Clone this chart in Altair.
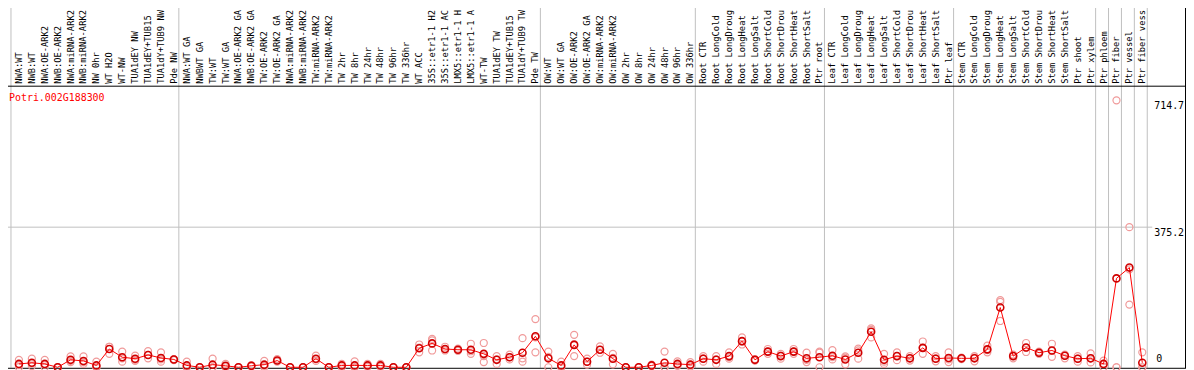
import altair as alt
import pandas as pd

categories = [
    "NWA:WT", "NWB:WT", "NWA:OE-ARK2", "NWB:OE-ARK2", "NWA:miRNA-ARK2", "NWB:miRNA-ARK2",
    "NW 0hr", "WT H2O", "WT-NW", "TUA1dEY NW", "TUA1dEY+TUB15", "TUA1dY+TUB9 NW", "Pde NW",
    "NWA:WT GA", "NWBWT GA", "TW:WT", "TW:WT GA", "NWA:OE-ARK2 GA", "NWB:OE-ARK2 GA",
    "TW:OE-ARK2", "TW:OE-ARK2 GA", "NWA:miRNA-ARK2", "NWB:miRNA-ARK2", "TW:miRNA-ARK2",
    "TW:miRNA-ARK2", "TW 2hr", "TW 8hr", "TW 24hr", "TW 48hr", "TW 96hr", "TW 336hr",
    "WT ACC", "35S::etr1-1 H2", "35S::etr1-1 AC", "LMX5::etr1-1 H", "LMX5::etr1-1 A",
    "WT-TW", "TUA1dEY TW", "TUA1dEY+TUB15", "TUA1dY+TUB9 TW", "Pde TW",
    "OW:WT", "OW:WT GA", "OW:OE-ARK2", "OW:OE-ARK2 GA", "OW:miRNA-ARK2", "OW:miRNA-ARK2",
    "OW 2hr", "OW 8hr", "OW 24hr", "OW 48hr", "OW 96hr", "OW 336hr",
    "Root CTR", "Root LongCold", "Root LongDroug", "Root LongHeat", "Root LongSalt",
    "Root ShortCold", "Root ShortDrou", "Root ShortHeat", "Root ShortSalt", "Ptr root",
    "Leaf CTR", "Leaf LongCold", "Leaf LongDroug", "Leaf LongHeat", "Leaf LongSalt",
    "Leaf ShortCold", "Leaf ShortDrou", "Leaf ShortHeat", "Leaf ShortSalt", "Ptr leaf",
    "Stem CTR", "Stem LongCold", "Stem LongDroug", "Stem LongHeat", "Stem LongSalt",
    "Stem ShortCold", "Stem ShortDrou", "Stem ShortHeat", "Stem ShortSalt", "Ptr shoot",
    "Ptr xylem", "Ptr phloem", "Ptr fiber", "Ptr vessel", "Ptr fiber vess",
]

means = [
    9, 12, 9, 0, 20, 17, 5, 49, 27, 23, 33, 25, 21,
    5, 0, 7, 4, 0, 4, 7, 18, 0, 0, 23, 0, 5, 5, 5, 5, 0, 0, 51, 64, 49, 47, 47, 36, 20, 27, 39, 83,
    24, 5, 60, 15, 47, 23, 0, 0, 5, 12, 9, 7,
    23, 20, 30, 70, 20, 42, 30, 42, 24, 27,
    31, 21, 39, 95, 20, 30, 24, 52, 23, 25,
    24, 24, 48, 160, 30, 53, 39, 45, 31, 23, 24,
    9, 238, 267, 12,
]

rep1 = [
    20, 23, 20, 0, 29, 29, 15, 55, 42, 31, 43, 40, 22,
    15, 0, 23, 9, 0, 6, 17, 22, 0, 0, 31, 0, 9, 16, 9, 9, 0, 0, 61, 76, 55, 50, 63, 65, 30, 34, 78, 129,
    42, 15, 87, 23, 56, 36, 0, 0, 7, 42, 16, 14,
    30, 30, 40, 80, 22, 49, 36, 49, 39, 42,
    46, 29, 50, 104, 36, 40, 30, 69, 30, 40,
    26, 30, 58, 180, 34, 65, 42, 63, 34, 30, 37,
    18, 714.7, 375.2, 40,
]

rep2 = [
    6, 10, 7, 0, 17, 14, 0, 55, 24, 20, 33, 21, 21,
    0, 0, 0, 3, 0, 4, 4, 17, 0, 0, 21, 0, 5, 0, 5, 5, 0, 0, 53, 72, 48, 47, 43, 30, 21, 27, 24, 80,
    28, 0, 62, 15, 47, 25, 0, 0, 5, 0, 7, 5,
    24, 21, 27, 69, 20, 42, 31, 42, 20, 39,
    27, 26, 45, 100, 15, 30, 24, 52, 24, 21,
    24, 26, 46, 175, 30, 52, 39, 44, 31, 23, 24,
    9, 0, 262, 0,
]

rep3 = [
    0, 3, 0, 0, 14, 9, 0, 36, 15, 17, 24, 15, 19,
    0, 0, 0, 0, 0, 2, 0, 15, 0, 0, 17, 0, 0, 0, 1, 1, 0, 0, 40, 45, 45, 44, 36, 14, 9, 21, 15, 40,
    0, 0, 30, 7, 39, 8, 0, 0, 3, 0, 4, 2,
    15, 9, 23, 61, 18, 36, 23, 36, 14, 0,
    21, 8, 23, 80, 9, 19, 18, 36, 16, 14,
    22, 16, 40, 124, 24, 41, 36, 28, 24, 15, 13,
    0, 0, 168, 0,
]

group_sizes = [13, 28, 12, 10, 10, 11, 1, 1, 1, 1]
gene_name = "Potri.002G188300"
tick_values = [714.7, 375.2]
tick_labels = ["714.7", "375.2"]
zero_label = "0"

FONT = "DejaVu Sans Mono"
RED = "#ff0000"

n = len(categories)
idx = list(range(n))
df = pd.DataFrame({"idx": idx, "cat": categories, "mean": means})
reps = pd.DataFrame({"idx": idx * 3, "val": rep1 + rep2 + rep3})

bounds = [0]
for g in group_sizes:
    bounds.append(bounds[-1] + g)
seps = pd.DataFrame({"pos": [b - 8 / 13 for b in bounds]})

xs = alt.Scale(domain=[-19 / 13, 1175 / 13], nice=False, zero=False)
ys = alt.Scale(domain=[-3.99, 980.05], nice=False, zero=False)

sep_rules = alt.Chart(seps).mark_rule(color="#c0c0c0", strokeWidth=1).encode(
    x=alt.X("pos:Q", scale=xs, axis=None), y=alt.value(0), y2=alt.value(369)
)

grid = alt.Chart(pd.DataFrame({"v": [tick_values[1]]})).mark_rule(
    color="#c0c0c0", strokeWidth=1
).encode(y=alt.Y("v:Q", scale=ys, axis=None), x=alt.value(2), x2=alt.value(1160))

frame_h = alt.Chart(pd.DataFrame({"yy": [0.5, 85.5, 369.5]})).mark_rule(
    color="black", strokeWidth=1
).encode(y=alt.Y("yy:Q", scale=alt.Scale(domain=[0, 370], range=[0, 370]), axis=None),
         x=alt.value(2), x2=alt.value(1193))

frame_v = alt.Chart(pd.DataFrame({"xx": [2.5, 1193.5]})).mark_rule(
    color="black", strokeWidth=1
).encode(x=alt.X("xx:Q", scale=alt.Scale(domain=[0, 1194], range=[0, 1194]), axis=None),
         y=alt.value(0), y2=alt.value(370))

labels = alt.Chart(df).mark_text(
    angle=270, align="left", baseline="middle", font=FONT, fontSize=8.8, color="black"
).encode(x=alt.X("idx:Q", scale=xs, axis=None), y=alt.value(83), text="cat:N")

rep_pts = alt.Chart(reps).mark_point(
    shape="circle", filled=False, size=50, color="#f09a9a", strokeWidth=1.2, opacity=1
).encode(x=alt.X("idx:Q", scale=xs, axis=None), y=alt.Y("val:Q", scale=ys, axis=None))

mean_line = alt.Chart(df).mark_line(color=RED, strokeWidth=1).encode(
    x=alt.X("idx:Q", scale=xs, axis=None), y=alt.Y("mean:Q", scale=ys, axis=None)
)

mean_pts = alt.Chart(df).mark_point(
    shape="circle", filled=False, size=50, color="#d00000", strokeWidth=1.6, opacity=1
).encode(x=alt.X("idx:Q", scale=xs, axis=None), y=alt.Y("mean:Q", scale=ys, axis=None))

tick_text = alt.Chart(pd.DataFrame({"v": tick_values, "t": tick_labels})).mark_text(
    align="left", baseline="top", font=FONT, fontSize=10, color="black", dy=1
).encode(x=alt.value(1162), y=alt.Y("v:Q", scale=ys, axis=None), text="t:N")

zero_text = alt.Chart(pd.DataFrame({"v": [0], "t": [zero_label]})).mark_text(
    align="left", baseline="bottom", font=FONT, fontSize=10, color="black", dy=-3
).encode(x=alt.value(1164), y=alt.Y("v:Q", scale=ys, axis=None), text="t:N")

gene_text = alt.Chart(pd.DataFrame({"t": [gene_name]})).mark_text(
    align="left", baseline="middle", font=FONT, fontSize=10, color=RED
).encode(x=alt.value(9), y=alt.value(97), text="t:N")

chart = alt.layer(
    sep_rules, grid, frame_h, frame_v, labels, rep_pts, mean_line, mean_pts,
    tick_text, zero_text, gene_text
).resolve_scale(x="independent", y="independent").properties(
    width=1194, height=370,
    autosize=alt.AutoSizeParams(type="none"),
    padding={"left": -8, "top": -8, "right": 0, "bottom": 0},
    background="white",
).configure_view(stroke=None)

chart.save("out.html", embed_options={"renderer": "svg", "actions": False})
